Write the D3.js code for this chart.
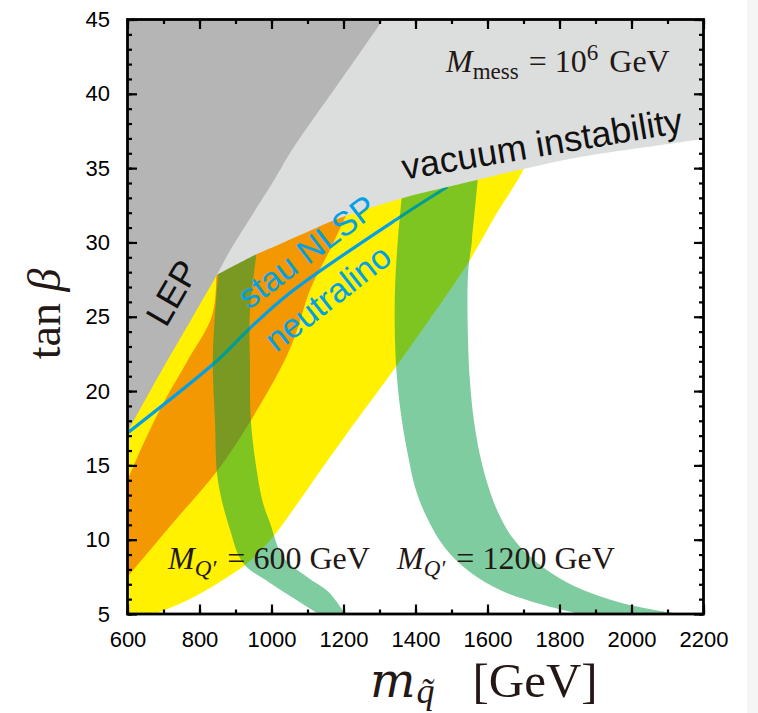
<!DOCTYPE html>
<html>
<head>
<meta charset="utf-8">
<script src="https://cdn.jsdelivr.net/npm/d3@7"></script>
<style>
  html, body { margin: 0; padding: 0; background: #fff; }
  svg { display: block; }
</style>
</head>
<body>
<script>
// Squark mass vs tan(beta) plane, minimal gauge mediation with M_mess = 1e6 GeV.
// All region outlines are given as [m_squark (GeV), tan beta] pairs.

const xTicksMajor = [600, 800, 1000, 1200, 1400, 1600, 1800, 2000, 2200];
const yTicksMajor = [5, 10, 15, 20, 25, 30, 35, 40, 45];

// LEP exclusion boundary (from the m = 600 edge up to the top edge)
const lepBoundary = [
  [600, 17.25], [649, 19.4], [712, 22.1], [778, 24.85], [848, 27.81],
  [885, 29.46], [1010, 34.3], [1051, 36.0], [1199, 41.14], [1310, 45]
];

// Vacuum (in)stability boundary, from the LEP edge to the right edge
const vacuumBoundary = [
  [848, 27.81], [954, 29.15], [1018, 29.83], [1093, 30.63], [1190, 31.64],
  [1365, 32.99], [1488, 33.73], [1571, 34.2], [1699, 34.94], [1857, 35.75],
  [2043, 36.42], [2200, 36.96]
];

// Yellow band: lower-right edge (its upper-left side lies under the grey regions)
const yellowEdge = [
  [676, 5.0], [774, 6.01], [865, 7.29], [940, 8.57], [1004, 10.18], [1079, 12.67],
  [1143, 14.89], [1237, 18.05], [1329, 21.08], [1432, 24.58], [1546, 28.62],
  [1626, 31.98], [1699, 34.87], [1740, 37.5]
];

// Orange band: upper-left and lower-right edges
const orangeUpper = [
  [600, 14.02], [649, 16.71], [704, 19.4], [768, 22.09], [837, 25.25], [846, 29.5]
];
const orangeLower = [
  [600, 7.49], [726, 11.12], [851, 14.69], [940, 17.92], [1037, 22.09],
  [1071, 24.1], [1107, 26.8], [1162, 29.49], [1204, 31.64], [1240, 33.5]
];

// Squark-mass contours for M_Q' = 600 GeV and 1200 GeV (outer and inner edges, top to bottom)
const band600Outer = [
  [862, 30.5], [846, 26.13], [837, 22.09], [843, 18.05], [851, 14.02], [885, 10.65],
  [921, 8.43], [996, 7.09], [1075, 5.85], [1130, 5.0]
];
const band600Inner = [
  [968, 31.0], [940, 25.25], [940, 22.09], [943, 17.92], [960, 14.5], [976, 12.5],
  [996, 11.12], [1032, 8.84], [1099, 7.49], [1160, 6.45], [1204, 5.0]
];
const band1200Outer = [
  [1370, 35.0], [1351, 30.16], [1343, 26.8], [1343, 23.44], [1349, 20.74], [1362, 18.05],
  [1379, 15.7], [1401, 13.34], [1435, 11.32], [1482, 9.44], [1551, 7.83], [1635, 6.61],
  [1746, 5.67], [1857, 5.0]
];
const band1200Inner = [
  [1580, 36.0], [1557, 30.16], [1546, 27.94], [1546, 23.44], [1551, 20.74], [1562, 18.05],
  [1579, 15.7], [1601, 13.68], [1629, 11.86], [1668, 10.18], [1732, 8.57], [1824, 7.09],
  [1954, 5.87], [2079, 5.2], [2149, 5.0]
];

// Stau NLSP / neutralino NLSP dividing line
const nlspLine = [
  [600, 17.18], [851, 22.09], [935, 24.11], [1051, 26.6], [1357, 31.71], [1488, 33.73]
];

const W = 758, H = 713;
const x = d3.scaleLinear().domain([600, 2200]).range([127.5, 703.5]);
const y = d3.scaleLinear().domain([5, 45]).range([614, 19.5]);

const svg = d3.select("body").append("svg").attr("width", W).attr("height", H);

// faint strip at the right page edge
svg.append("rect").attr("x", 747).attr("y", 0).attr("width", 11).attr("height", H)
  .attr("fill", "#f5f5f5");

svg.append("defs").append("clipPath").attr("id", "plotclip")
  .append("rect")
  .attr("x", x(600)).attr("y", y(45))
  .attr("width", x(2200) - x(600)).attr("height", y(5) - y(45));

const plot = svg.append("g").attr("clip-path", "url(#plotclip)");
const smooth = d3.line().x(d => x(d[0])).y(d => y(d[1])).curve(d3.curveCatmullRom.alpha(0.5));

// closed outline built from several smooth edges joined by straight segments
function outline(...edges) {
  let d = "";
  edges.forEach((e, i) => {
    const seg = e.length > 1 ? smooth(e) : `M${x(e[0][0])},${y(e[0][1])}`;
    d += i === 0 ? seg : "L" + seg.slice(1);
  });
  return d + "Z";
}
const rev = a => a.slice().reverse();

// yellow band
plot.append("path")
  .attr("d", outline([[600, 5]], yellowEdge, [[600, 37.5]]))
  .attr("fill", "#fff100");

// orange band
plot.append("path")
  .attr("d", outline(orangeLower, rev(orangeUpper)))
  .attr("fill", "#f39800");

// NLSP line
plot.append("path")
  .attr("d", smooth(nlspLine))
  .attr("fill", "none").attr("stroke", "#00a0e9").attr("stroke-width", 3.2);

// M_Q' contours, translucent green
[[band600Outer, band600Inner], [band1200Outer, band1200Inner]].forEach(([o, i]) => {
  plot.append("path")
    .attr("d", outline(o, rev(i)))
    .attr("fill", "#009944").attr("fill-opacity", 0.5);
});

// vacuum instability region
plot.append("path")
  .attr("d", outline([[600, 27.81]], vacuumBoundary, [[2200, 45]], [[600, 45]]))
  .attr("fill", "#dcdddd");

// LEP excluded region
plot.append("path")
  .attr("d", outline(lepBoundary, [[600, 45]]))
  .attr("fill", "#b5b5b6");

// region labels
const sans = "'Liberation Sans', Arial, Helvetica, sans-serif";
const serif = "'Liberation Serif', 'Times New Roman', serif";

function rotText(txt, cx, cy, ang, size, color) {
  svg.append("text")
    .attr("transform", `translate(${cx},${cy}) rotate(${ang})`)
    .attr("text-anchor", "middle")
    .attr("font-family", sans).attr("font-size", size)
    .attr("fill", color)
    .text(txt);
}
rotText("LEP", 183, 299, -60, 36, "#111");
rotText("stau NLSP", 314, 261, -37, 34, "#00a0e9");
rotText("neutralino", 335, 307, -38, 34, "#00a0e9");
rotText("vacuum instability", 544, 156, -9.6, 36, "#111");

// math-style labels
function mathText(parent, xx, yy, parts, size, anchor) {
  const t = parent.append("text")
    .attr("x", xx).attr("y", yy)
    .attr("text-anchor", anchor || "start")
    .attr("font-family", serif).attr("font-size", size)
    .attr("fill", "#231815");
  let shift = 0;
  parts.forEach(p => {
    const s = t.append("tspan").text(p.t);
    let target = 0;
    if (p.sub) { target = size * 0.22; s.attr("font-size", size * 0.72); }
    if (p.sup) { target = -size * 0.38; s.attr("font-size", size * 0.72); }
    s.attr("dy", target - shift);
    shift = target;
    if (p.it) s.attr("font-style", "italic");
    if (p.dx) s.attr("dx", p.dx);
  });
  return t;
}

mathText(svg, 446, 72, [
  {t: "M", it: true}, {t: "mess", sub: true}, {t: " = 10", dx: 2}, {t: "6", sup: true}, {t: " GeV", dx: 3}
], 32);
mathText(svg, 168, 569, [
  {t: "M", it: true}, {t: "Q′", sub: true, it: true}, {t: " = 600 GeV", dx: 3}
], 32);
mathText(svg, 397, 569, [
  {t: "M", it: true}, {t: "Q′", sub: true, it: true}, {t: " = 1200 GeV", dx: 3}
], 32);

// axis titles
const yl = svg.append("text")
  .attr("transform", "translate(60,314) rotate(-90)")
  .attr("text-anchor", "middle")
  .attr("font-family", serif).attr("font-size", 46).attr("fill", "#231815");
yl.append("tspan").text("tan ");
yl.append("tspan").attr("font-style", "italic").text("β");

const xl = svg.append("text")
  .attr("x", 370).attr("y", 697)
  .attr("font-family", serif).attr("font-size", 49).attr("fill", "#231815");
xl.append("tspan").attr("font-family", "'DejaVu Serif', serif").attr("font-style", "italic")
  .attr("font-size", 48).text("m");
xl.append("tspan").attr("font-style", "italic").attr("font-size", 36).attr("dy", 6).attr("dx", 1).text("q̃");
xl.append("tspan").attr("dy", -6).attr("dx", 38).text("[GeV]");

// axes: major + minor ticks on all four sides, pointing inward
const axisG = svg.append("g").attr("font-family", sans);
const xMinor = d3.range(600, 2201, 100);
const yMinor = d3.range(5, 46, 1);

function drawAxis(axisFn, scale, ticks, size, transform, labels) {
  const a = axisFn(scale).tickValues(ticks).tickSizeInner(-size).tickSizeOuter(0);
  if (!labels) a.tickFormat("");
  else a.tickFormat(d3.format("d")).tickPadding(size + 8);
  const g = axisG.append("g").attr("transform", transform).call(a);
  g.select(".domain").remove();
  g.selectAll(".tick line").attr("stroke", "#000").attr("stroke-width", 2.2);
  g.selectAll(".tick text").attr("font-size", 22).attr("fill", "#000")
    .attr("font-family", sans);
  return g;
}
drawAxis(d3.axisBottom, x, xMinor, 4.5, `translate(0,${y(5)})`, false);
drawAxis(d3.axisBottom, x, xTicksMajor, 9.5, `translate(0,${y(5)})`, true);
drawAxis(d3.axisTop, x, xMinor, 4.5, `translate(0,${y(45)})`, false);
drawAxis(d3.axisTop, x, xTicksMajor, 9.5, `translate(0,${y(45)})`, false);
drawAxis(d3.axisLeft, y, yMinor, 4.5, `translate(${x(600)},0)`, false);
drawAxis(d3.axisLeft, y, yTicksMajor, 9.5, `translate(${x(600)},0)`, true);
drawAxis(d3.axisRight, y, yMinor, 4.5, `translate(${x(2200)},0)`, false);
drawAxis(d3.axisRight, y, yTicksMajor, 9.5, `translate(${x(2200)},0)`, false);

// frame
svg.append("rect")
  .attr("x", x(600)).attr("y", y(45))
  .attr("width", x(2200) - x(600)).attr("height", y(5) - y(45))
  .attr("fill", "none").attr("stroke", "#000").attr("stroke-width", 2.8);
</script>
</body>
</html>
